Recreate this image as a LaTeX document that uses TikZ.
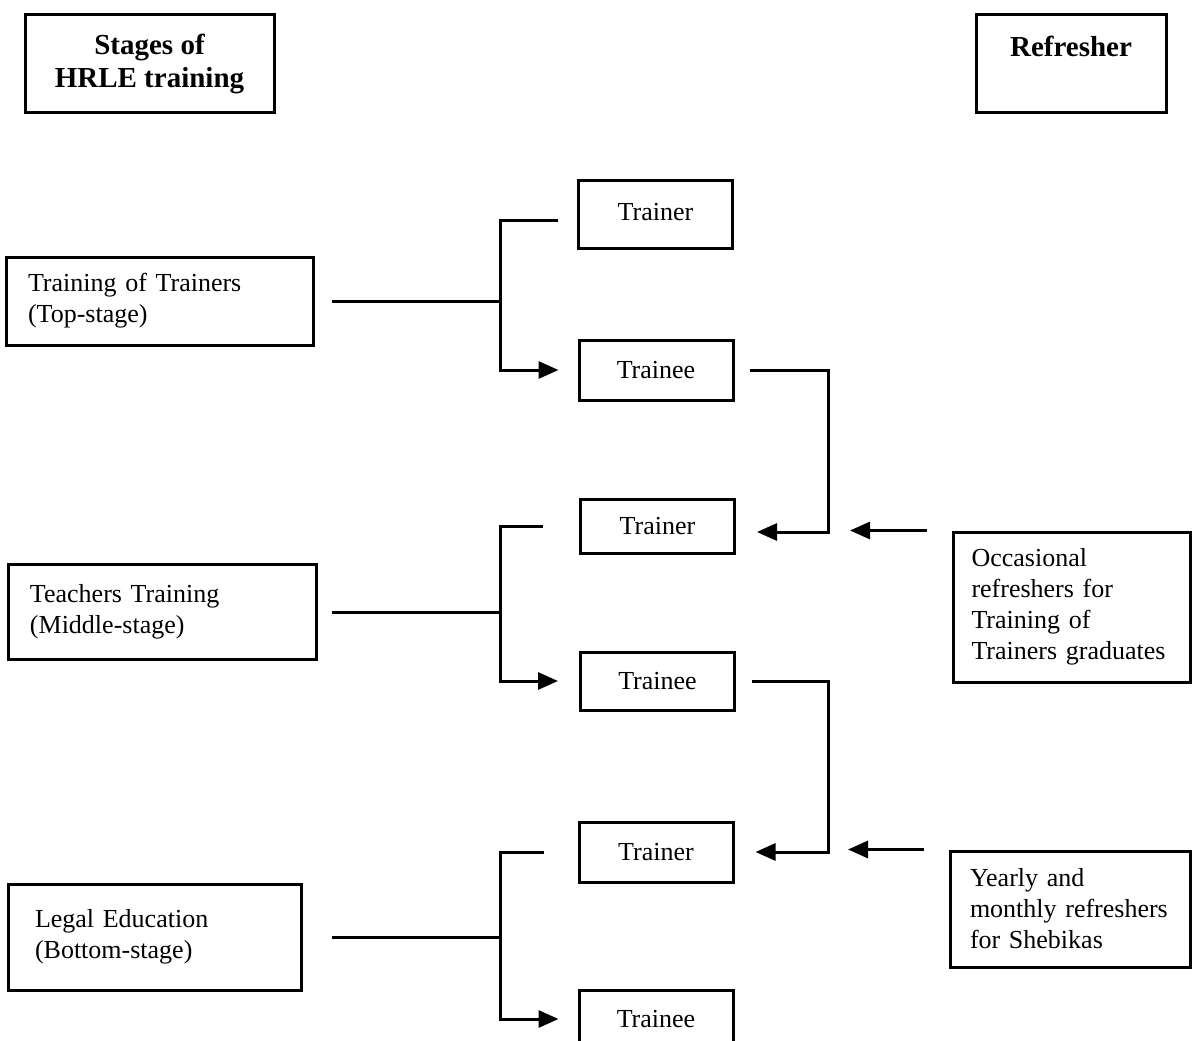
\documentclass[tikz,border=0pt]{standalone}
\usepackage{fontspec}
\setmainfont{Liberation Serif}
\usepackage{tikz}
\usetikzlibrary{positioning}
\usetikzlibrary{arrows.meta}
\usetikzlibrary{calc}

\begin{document}
\begin{tikzpicture}[x=1pt, y=-1pt, thick,
  box/.style={draw, rectangle, line width=3pt, inner ysep=0pt},
  head/.style={box, align=center, font=\bfseries\fontsize{29}{33}\selectfont},
  role/.style={box, minimum width=154pt, font=\fontsize{26}{31}\selectfont},
  stage/.style={box, align=left, font=\fontsize{26}{31}\selectfont},
  link/.style={line width=3pt},
  arr/.style={link, -{Triangle[length=20pt, width=17pt]}}]

\useasboundingbox (0,0) rectangle (1192,1041);

\node[head, minimum width=249pt, minimum height=97pt] (stages) at (149.5,63.5) {Stages of\\HRLE training};
\node[head, minimum width=190pt, minimum height=97pt] (refresher) at (1071,63.5) {Refresher\\[2pt]\mbox{}};

\node[stage, minimum height=88pt, text width=263pt, inner xsep=22pt] (tot) at (159.5,301) {Training of Trainers\\(Top-stage)};
\node[stage, minimum height=95pt, text width=264pt, inner xsep=22pt] (tt) at (162,612) {Teachers Training\\(Middle-stage)};
\node[stage, minimum height=106pt, text width=239pt, inner xsep=27pt] (le) at (154.5,937) {Legal Education\\(Bottom-stage)};

\node[role, minimum height=68pt] (trainer1) at (655.5,214) {\raisebox{5pt}{Trainer}};
\node[role, minimum height=60pt] (trainee1) at (656,370) {Trainee};
\node[role, minimum height=54pt] (trainer2) at (657.5,526) {Trainer};
\node[role, minimum height=58pt] (trainee2) at (657.5,681) {Trainee};
\node[role, minimum height=60pt] (trainer3) at (656,852) {Trainer};
\node[role, minimum height=58pt] (trainee3) at (656,1019) {Trainee};

\node[stage, minimum height=150pt, text width=200pt, inner xsep=18.5pt] (occ) at (1071.5,607) {Occasional\\refreshers for\\Training of\\Trainers graduates};
\node[stage, minimum height=116pt, text width=200pt, inner xsep=20pt] (yearly) at (1070,909) {Yearly and\\monthly refreshers\\for Shebikas};

\coordinate (j1) at (500,301);
\coordinate (j2) at (500,612);
\coordinate (j3) at (500,937);
\coordinate (k1) at (828,532);
\coordinate (k2) at (828,852);

\draw[link, shorten <=17pt] (tot.east) -- (j1);
\draw[link, shorten >=19pt] (j1) |- ($(trainer1.west)+(0,6)$);
\draw[arr, shorten >=19pt] (j1) |- (trainee1.west);

\draw[link, shorten <=14pt] (tt.east) -- (j2);
\draw[link, shorten >=36pt] (j2) |- (trainer2.west);
\draw[arr, shorten >=21pt] (j2) |- (trainee2.west);

\draw[link, shorten <=29pt] (le.east) -- (j3);
\draw[link, shorten >=34pt] (j3) |- (trainer3.west);
\draw[arr, shorten >=19pt] (j3) |- (trainee3.west);

\draw[arr, shorten <=15pt, shorten >=21pt] (trainee1.east) -| (k1) -- (k1 -| trainer2.east);
\draw[arr, shorten <=16pt, shorten >=21pt] (trainee2.east) -| (k2) -- (k2 -| trainer3.east);

\draw[arr, shorten <=25pt, shorten >=22pt] (occ.north west) -- (occ.north west -| k1);
\draw[arr, shorten <=25pt, shorten >=20pt] (yearly.north west) -- (yearly.north west -| k2);

\end{tikzpicture}
\end{document}
